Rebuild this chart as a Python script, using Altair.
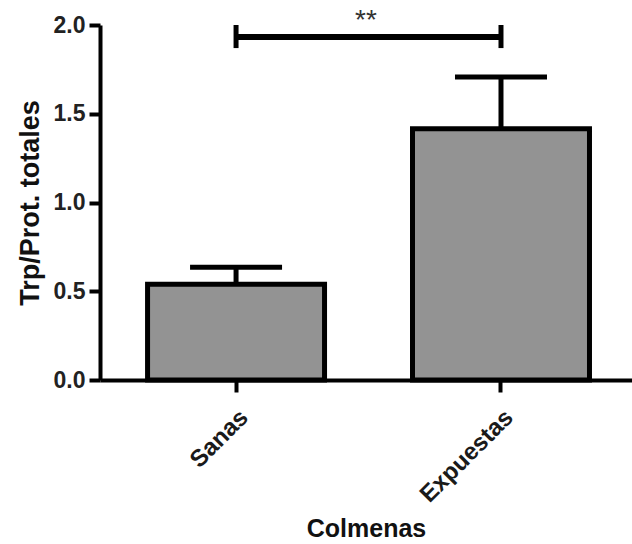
import altair as alt
import pandas as pd

groups = ["Sanas", "Expuestas"]
means = [0.54, 1.415]
sems = [0.095, 0.292]

sig_pair = ["Sanas", "Expuestas"]
sig_y = 1.932
sig_cap_low = 1.87
sig_cap_high = 2.0
sig_label = "**"

y_ticks = [0.0, 0.5, 1.0, 1.5, 2.0]

df = pd.DataFrame({"grupo": groups, "media": means, "sem": sems})
df["sup"] = df["media"] + df["sem"]
bracket = pd.DataFrame({"grupo": sig_pair, "y": [sig_y] * len(sig_pair),
                        "lo": [sig_cap_low] * len(sig_pair), "hi": [sig_cap_high] * len(sig_pair)})

FONT = "Liberation Sans"

x_enc = alt.X(
    "grupo:N", sort=groups, title="Colmenas",
    scale=alt.Scale(paddingInner=0.332, paddingOuter=0.17, align=0.528),
    axis=alt.Axis(labelAngle=-45, labelFontSize=24, labelFont=FONT, labelFontWeight="bold",
                  labelColor="#1a1a1a", tickSize=12, tickWidth=4, tickColor="black",
                  domainWidth=4, domainColor="black", labelPadding=13,
                  titleFontSize=25, titleFont=FONT, titleFontWeight="bold", titleColor="#111",
                  titlePadding=10),
)
y_scale = alt.Scale(domain=[0, 2], nice=False, zero=True)
y_axis = alt.Axis(values=y_ticks, format=".1f", labelFontSize=23, labelFont=FONT,
                  labelFontWeight="bold", labelColor="#222", tickSize=11, tickWidth=4,
                  tickColor="black", domainWidth=4, domainColor="black", labelPadding=4,
                  grid=False, titleFontSize=27, titleFont=FONT, titleFontWeight="bold",
                  titleColor="#111", titlePadding=9)

base = alt.Chart(df)

bars = base.mark_bar(fill="#939393", stroke="black", strokeWidth=5).encode(
    x=x_enc,
    y=alt.Y("media:Q", scale=y_scale, axis=y_axis, title="Trp/Prot. totales"),
)
err = base.mark_rule(color="black", strokeWidth=5).encode(
    x=alt.X("grupo:N", sort=groups), y="media:Q", y2="sup:Q"
)
caps = base.mark_tick(color="black", size=92, thickness=5, opacity=1).encode(
    x=alt.X("grupo:N", sort=groups), y="sup:Q"
)

br = alt.Chart(bracket)
line = br.mark_line(color="black", strokeWidth=6).encode(
    x=alt.X("grupo:N", sort=groups), y="y:Q"
)
ends = br.mark_rule(color="black", strokeWidth=5).encode(
    x=alt.X("grupo:N", sort=groups), y="lo:Q", y2="hi:Q"
)

chart = alt.layer(bars, err, caps, line, ends).properties(
    width=532, height=355,
    padding={"left": 100, "top": 25, "right": 0, "bottom": 164},
    autosize=alt.AutoSizeParams(type="none"),
    title=alt.TitleParams(sig_label, fontSize=28, font=FONT, fontWeight="normal",
                          color="#333", anchor="middle", offset=0, dy=43, baseline="alphabetic"),
    background="white",
).configure_view(stroke=None)

chart.save("out.html", embed_options={"renderer": "svg", "actions": False})
